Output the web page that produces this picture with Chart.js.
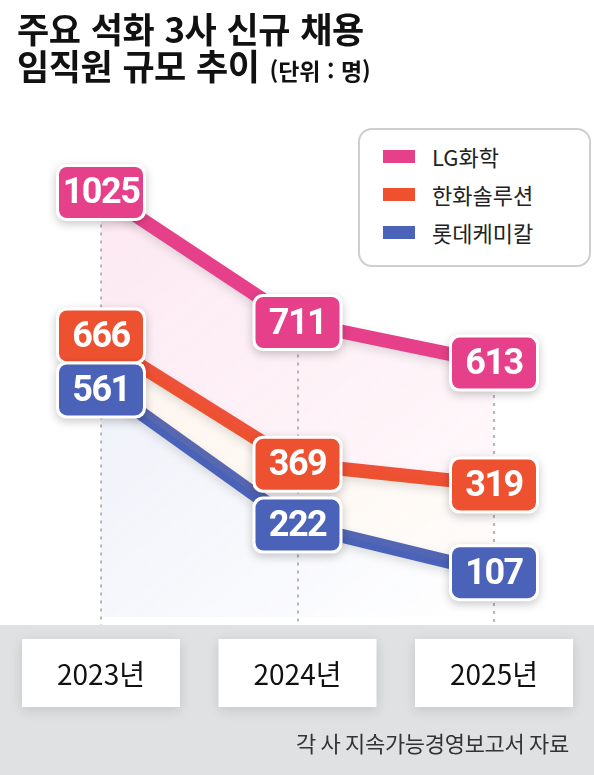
<!DOCTYPE html>
<html lang="ko">
<head>
    <meta charset="UTF-8">
    <title>주요 석화 3사 신규 채용 임직원 규모 추이</title>
    <script src="https://cdn.jsdelivr.net/npm/chart.js"></script>
    <style>
        body {
            margin: 0;
            background: #fff;
            font-family: "Noto Sans CJK KR", "Noto Sans", sans-serif;
        }
        .wrap {
            position: relative;
            width: 594px;
            height: 775px;
            overflow: hidden;
        }
        canvas {
            position: absolute;
            left: 0;
            top: 0;
        }
        .title {
            position: absolute;
            left: 17px;
            top: 9px;
            font-size: 35px;
            font-weight: 700;
            line-height: 37px;
            letter-spacing: -0.5px;
            word-spacing: 1px;
            color: #111;
        }
        .title .unit {
            font-size: 23px;
            font-weight: 600;
            margin-left: 10px;
            letter-spacing: 0;
            word-spacing: 0;
        }
        .legend {
            position: absolute;
            left: 358px;
            top: 128px;
            width: 206px;
            height: 128px;
            border: 2px solid #cfcfcf;
            border-radius: 14px;
            background: #fff;
            padding: 7px 0 0 23px;
            box-sizing: content-box;
        }
        .legend .row {
            display: flex;
            align-items: center;
            height: 38px;
            font-size: 22px;
            color: #222;
        }
        .legend .sw {
            width: 32px;
            height: 13px;
            margin-right: 17px;
        }
    </style>
</head>
<body>
<div class="wrap">
    <canvas id="chart" width="594" height="775"></canvas>
    <div class="title">주요 석화 3사 신규 채용<br>임직원 규모 추이<span class="unit">(단위 : 명)</span></div>
    <div class="legend" id="legend"></div>
</div>

<script>
    // data
    const years = ['2023년', '2024년', '2025년'];
    const seriesNames = ['LG화학', '한화솔루션', '롯데케미칼'];
    const lgChem = [1025, 711, 613];
    const hanwha = [666, 369, 319];
    const lotte = [561, 222, 107];
    const sourceText = '각 사 지속가능경영보고서 자료';

    const colors = ['#e6408a', '#ee5130', '#4a63b8'];
    const bandTop = 625;

    // legend built from the series
    const legendEl = document.getElementById('legend');
    seriesNames.forEach((name, i) => {
        const row = document.createElement('div');
        row.className = 'row';
        row.innerHTML = '<span class="sw" style="background:' + colors[i] + '"></span>' + name;
        legendEl.appendChild(row);
    });

    function grad(chart, rgb, a1, a2) {
        const ca = chart.chartArea;
        if (!ca) return 'transparent';
        const g = chart.ctx.createLinearGradient(ca.left, ca.top, ca.right, ca.bottom);
        g.addColorStop(0, 'rgba(' + rgb + ',' + a1 + ')');
        g.addColorStop(1, 'rgba(' + rgb + ',' + a2 + ')');
        return g;
    }

    function roundRect(ctx, x, y, w, h, r) {
        ctx.beginPath();
        ctx.moveTo(x + r, y);
        ctx.arcTo(x + w, y, x + w, y + h, r);
        ctx.arcTo(x + w, y + h, x, y + h, r);
        ctx.arcTo(x, y + h, x, y, r);
        ctx.arcTo(x, y, x + w, y, r);
        ctx.closePath();
    }

    // gray band + year boxes + source
    const bandPlugin = {
        id: 'band',
        beforeDraw(chart) {
            const ctx = chart.ctx;
            const xs = chart.scales.x;
            ctx.save();
            ctx.fillStyle = '#dfe1e3';
            ctx.fillRect(0, bandTop, chart.width, chart.height - bandTop);
            years.forEach((y, i) => {
                const cx = xs.getPixelForValue(i);
                ctx.save();
                ctx.shadowColor = 'rgba(0,0,0,0.13)';
                ctx.shadowBlur = 12;
                ctx.shadowOffsetY = 3;
                ctx.fillStyle = '#fff';
                ctx.fillRect(cx - 79, 639, 158, 68);
                ctx.restore();
                ctx.fillStyle = '#111';
                ctx.font = '28px "Noto Sans CJK KR", sans-serif';
                ctx.textAlign = 'center';
                ctx.textBaseline = 'middle';
                ctx.fillText(y, cx, 674);
            });
            ctx.fillStyle = '#333';
            ctx.font = '22px "Noto Sans CJK KR", sans-serif';
            ctx.textAlign = 'right';
            ctx.textBaseline = 'middle';
            ctx.letterSpacing = '-0.3px';
            ctx.fillText(sourceText, 569, 744);
            ctx.restore();
        },
        beforeDatasetsDraw(chart) {
            // dotted guide lines
            const ctx = chart.ctx;
            const xs = chart.scales.x;
            const ys = chart.scales.y;
            ctx.save();
            ctx.strokeStyle = '#b8b8b8';
            ctx.lineWidth = 2;
            ctx.setLineDash([3, 5]);
            years.forEach((y, i) => {
                const cx = Math.round(xs.getPixelForValue(i));
                ctx.beginPath();
                ctx.moveTo(cx, ys.getPixelForValue(lgChem[i]));
                ctx.lineTo(cx, bandTop);
                ctx.stroke();
            });
            ctx.restore();
        }
    };

    // value boxes
    const boxPlugin = {
        id: 'boxes',
        afterDatasetsDraw(chart) {
            const ctx = chart.ctx;
            const bw = 90, bh = 57, minGap = 54;
            const n = years.length;
            for (let i = 0; i < n; i++) {
                const items = chart.data.datasets.map((ds, d) => {
                    const pt = chart.getDatasetMeta(d).data[i];
                    return { d: d, x: pt.x, y: pt.y, v: ds.data[i] };
                });
                const sorted = items.slice().sort((a, b) => a.y - b.y);
                for (let k = 1; k < sorted.length; k++) {
                    const gap = sorted[k].y - sorted[k - 1].y;
                    if (gap < minGap) {
                        const push = (minGap - gap) / 2;
                        sorted[k - 1].y -= push;
                        sorted[k].y += push;
                    }
                }
                items.forEach(it => {
                    ctx.save();
                    ctx.shadowColor = 'rgba(0,0,0,0.22)';
                    ctx.shadowBlur = 10;
                    ctx.shadowOffsetY = 3;
                    roundRect(ctx, it.x - bw / 2, it.y - bh / 2, bw, bh, 10);
                    ctx.fillStyle = '#fff';
                    ctx.fill();
                    ctx.restore();
                    ctx.save();
                    roundRect(ctx, it.x - bw / 2 + 3, it.y - bh / 2 + 3, bw - 6, bh - 6, 8);
                    ctx.fillStyle = colors[it.d];
                    ctx.fill();
                    ctx.fillStyle = '#fff';
                    ctx.font = 'bold 36px Roboto, sans-serif';
                    ctx.letterSpacing = '-1.5px';
                    ctx.textAlign = 'center';
                    ctx.textBaseline = 'middle';
                    ctx.fillText(String(it.v), it.x, it.y + 2);
                    ctx.restore();
                });
            }
        }
    };

    const lineShadow = {
        id: 'lineShadow',
        beforeDatasetDraw(chart) {
            chart.ctx.save();
            chart.ctx.shadowColor = 'rgba(0,0,0,0.12)';
            chart.ctx.shadowBlur = 10;
            chart.ctx.shadowOffsetY = 4;
        },
        afterDatasetDraw(chart) {
            chart.ctx.restore();
        }
    };

    new Chart(document.getElementById('chart'), {
        type: 'line',
        data: {
            labels: years,
            datasets: [
                {
                    label: seriesNames[0],
                    data: lgChem,
                    borderColor: colors[0],
                    borderWidth: 14,
                    pointRadius: 0,
                    fill: '+1',
                    backgroundColor: c => grad(c.chart, '236,80,150', 0.14, 0.02)
                },
                {
                    label: seriesNames[1],
                    data: hanwha,
                    borderColor: colors[1],
                    borderWidth: 14,
                    pointRadius: 0,
                    fill: '+1',
                    backgroundColor: c => grad(c.chart, '245,160,90', 0.13, 0.03)
                },
                {
                    label: seriesNames[2],
                    data: lotte,
                    borderColor: colors[2],
                    borderWidth: 14,
                    pointRadius: 0,
                    fill: 'origin',
                    backgroundColor: c => grad(c.chart, '90,110,200', 0.14, 0.0)
                }
            ]
        },
        options: {
            responsive: false,
            animation: false,
            layout: { padding: { left: 101, right: 100, top: 120, bottom: 158 } },
            plugins: {
                legend: { display: false },
                tooltip: { enabled: false }
            },
            scales: {
                x: { display: false },
                y: { display: false, min: 0, max: 1200 }
            }
        },
        plugins: [bandPlugin, lineShadow, boxPlugin]
    });
</script>
</body>
</html>
